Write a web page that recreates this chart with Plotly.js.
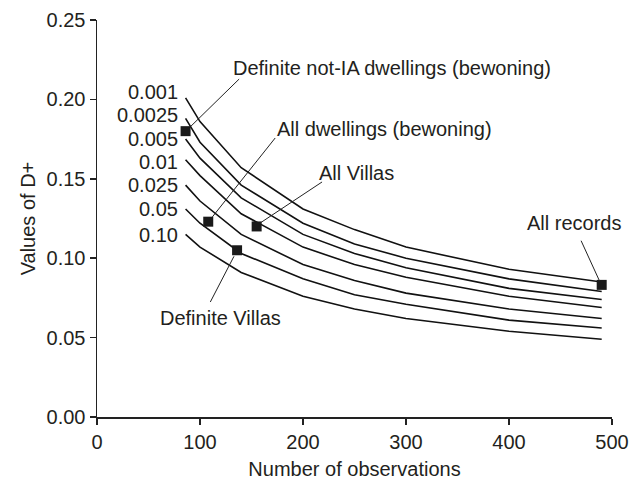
<!DOCTYPE html>
<html>
<head>
<meta charset="utf-8">
<script src="https://cdn.plot.ly/plotly-3.0.1.min.js"></script>
<style>html,body{margin:0;padding:0;background:#fff;}#chart{width:638px;height:482px;}</style>
</head>
<body>
<div id="chart"></div>
<script>
// Number of observations at which the critical values are drawn
const nObs = [86, 100, 140, 200, 250, 300, 400, 490];
// Significance levels (curve labels)
const alphaLabels = ['0.001', '0.0025', '0.005', '0.01', '0.025', '0.05', '0.10'];
// Critical values of D+, one array per level
const d0001  = [0.201, 0.186, 0.157, 0.131, 0.118, 0.107, 0.093, 0.085];
const d00025 = [0.188, 0.173, 0.146, 0.122, 0.109, 0.100, 0.087, 0.079];
const d0005  = [0.175, 0.163, 0.138, 0.115, 0.103, 0.094, 0.081, 0.074];
const d001   = [0.162, 0.152, 0.128, 0.107, 0.096, 0.088, 0.076, 0.069];
const d0025  = [0.146, 0.136, 0.115, 0.096, 0.086, 0.078, 0.068, 0.062];
const d005   = [0.131, 0.122, 0.103, 0.087, 0.077, 0.071, 0.061, 0.056];
const d010   = [0.115, 0.107, 0.091, 0.076, 0.068, 0.062, 0.054, 0.049];
const curves = [d0001, d00025, d0005, d001, d0025, d005, d010];

// Observed samples
const sampleNames = ['Definite not-IA dwellings (bewoning)', 'All dwellings (bewoning)', 'All Villas', 'Definite Villas', 'All records'];
const sampleN  = [86, 108, 155, 136, 490];
const sampleD  = [0.180, 0.123, 0.120, 0.105, 0.0832];

// Label placement (text centre) and leader lines, in data units
const labelX = [286, 279, 252, 120, 463];
const labelY = [0.2198, 0.1814, 0.1537, 0.0624, 0.1224];
const leadX0 = [91, 112, 158.5, 133, 488];
const leadY0 = [0.183, 0.126, 0.1222, 0.1012, 0.0855];
const leadX1 = [138, 173, 218.5, 110, 470];
const leadY1 = [0.2128, 0.1757, 0.148, 0.0724, 0.111];

const curveLabelX = 81;
const curveLabelY = [0.2049, 0.1902, 0.1749, 0.1608, 0.1461, 0.1310, 0.1146];

const FONT = 'Liberation Sans, Arial, Helvetica, sans-serif';
const INK = '#231f20';

const traces = curves.map((c, i) => ({
  x: nObs, y: c, type: 'scatter', mode: 'lines',
  name: alphaLabels[i],
  line: {color: '#111', width: 1.6},
  hoverinfo: 'skip'
}));
traces.push({
  x: sampleN, y: sampleD, type: 'scatter', mode: 'markers',
  marker: {symbol: 'square', size: 10, color: '#1a1a1a'},
  text: sampleNames, hoverinfo: 'text'
});

const annotations = [];
alphaLabels.forEach((t, i) => annotations.push({
  x: curveLabelX, y: curveLabelY[i], xref: 'x', yref: 'y',
  text: t, showarrow: false, xanchor: 'right', yanchor: 'middle',
  font: {family: FONT, size: 20, color: INK}
}));
sampleNames.forEach((t, i) => annotations.push({
  x: labelX[i], y: labelY[i], xref: 'x', yref: 'y',
  text: t, showarrow: false, xanchor: 'center', yanchor: 'middle',
  font: {family: FONT, size: 20, color: INK}
}));

const shapes = sampleNames.map((t, i) => ({
  type: 'line', xref: 'x', yref: 'y',
  x0: leadX0[i], y0: leadY0[i], x1: leadX1[i], y1: leadY1[i],
  line: {color: '#222', width: 1}
}));

const axisCommon = {
  showline: true, linecolor: '#222', linewidth: 1.5,
  ticks: 'outside', ticklen: 6, tickwidth: 1.5, tickcolor: '#222',
  showgrid: false, zeroline: false,
  tickfont: {family: FONT, size: 20, color: INK}
};

const layout = {
  width: 638, height: 482,
  margin: {l: 96.5, r: 26, t: 20, b: 65},
  paper_bgcolor: '#fff', plot_bgcolor: '#fff',
  showlegend: false,
  xaxis: Object.assign({}, axisCommon, {
    range: [0, 500], dtick: 100, tick0: 0,
    title: {text: 'Number of observations', font: {family: FONT, size: 20, color: INK}, standoff: 10}
  }),
  yaxis: Object.assign({}, axisCommon, {
    range: [0, 0.25], dtick: 0.05, tick0: 0, tickformat: '.2f',
    title: {text: 'Values of D+', font: {family: FONT, size: 20, color: INK}, standoff: 5}
  }),
  annotations: annotations,
  shapes: shapes
};

Plotly.newPlot('chart', traces, layout, {staticPlot: true, displayModeBar: false});
</script>
</body>
</html>
